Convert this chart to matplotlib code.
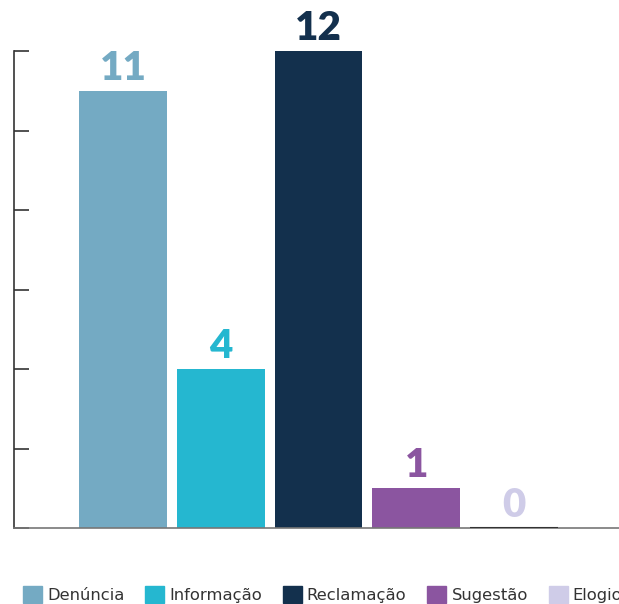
import numpy as np
import matplotlib.pyplot as plt
from matplotlib.patches import Patch

categorias = ['Denúncia', 'Informação', 'Reclamação', 'Sugestão', 'Elogio']
valores = [11, 4, 12, 1, 0]
cores = ['#74aac3', '#25b7d0', '#13304d', '#8b55a0', '#cfcce8']

fig = plt.figure(figsize=(6.19, 6.04), dpi=100)
ax = fig.add_axes([14/619, 1-528/604, 609/619, (528-51)/604])

x = np.arange(len(categorias))
ax.bar(x, valores, width=0.9, color=cores)
# zero bar shows as a dark line on the baseline
for xi, v in zip(x, valores):
    if v == 0:
        ax.hlines(0, xi-0.45, xi+0.45, color='#333333', lw=1.5, zorder=3)

for xi, v, c in zip(x, valores, cores):
    ax.annotate(str(v), (xi, v), xytext=(0, 3), textcoords='offset points',
                ha='center', va='bottom', color=c, fontsize=29,
                fontweight='heavy', family='Lato')

ax.set_xlim(-1.115, 5.115)
ax.set_ylim(0, 12)
ax.set_yticks(range(0, 13, 2))
ax.set_yticklabels([])
ax.set_xticks([])
ax.tick_params(axis='y', direction='in', length=11, width=1.2, color='#333333')
for s in ['top', 'right']:
    ax.spines[s].set_visible(False)
ax.spines['left'].set_color('#333333')
ax.spines['left'].set_linewidth(1.2)
ax.spines['bottom'].set_color('#777777')
ax.spines['bottom'].set_linewidth(1.2)

handles = [Patch(color=c, label=l) for c, l in zip(cores, categorias)]
leg = fig.legend(handles=handles, loc='upper left', bbox_to_anchor=(23/619, 1-586/604),
                 ncol=5, frameon=False, handlelength=1.16, handleheight=1.25,
                 handletextpad=0.3, columnspacing=1.28, borderpad=0, borderaxespad=0,
                 prop={'family': 'DejaVu Sans', 'size': 11.8})
for t in leg.get_texts():
    t.set_color('#333333')

fig.savefig('out.png', dpi=100)
